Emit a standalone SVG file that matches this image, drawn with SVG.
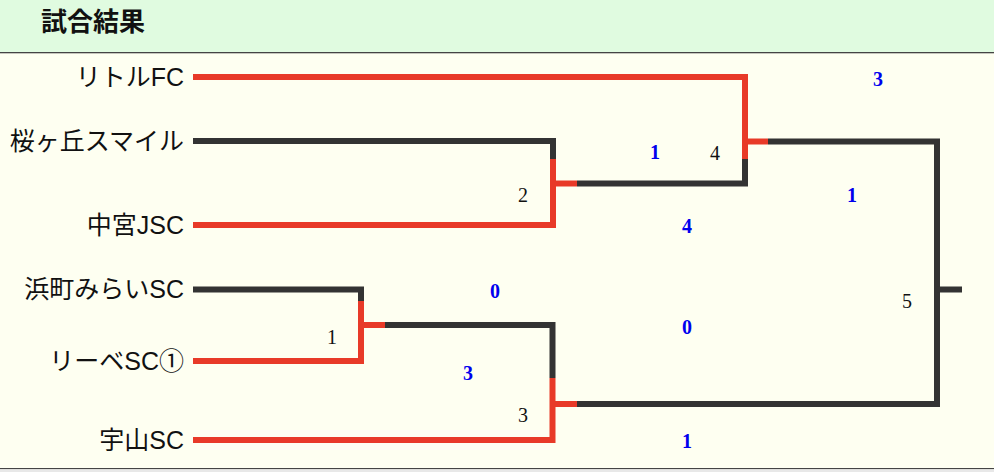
<svg xmlns="http://www.w3.org/2000/svg" width="994" height="472" viewBox="0 0 994 472">
<style>
.team{font-family:"Liberation Sans","Noto Sans CJK JP",sans-serif;font-size:25px;fill:#111;text-anchor:end}
.title{font-family:"Liberation Sans","Noto Sans CJK JP",sans-serif;font-size:26px;font-weight:bold;fill:#111}
.score{font-family:"Liberation Serif",serif;font-size:20px;font-weight:bold;fill:#0000ee;text-anchor:middle}
.num{font-family:"Liberation Serif",serif;font-size:20px;fill:#111;text-anchor:middle}
.w{fill:none;stroke:#e83a28;stroke-width:6;stroke-linejoin:miter;stroke-linecap:butt}
.l{fill:none;stroke:#333;stroke-width:6;stroke-linejoin:miter;stroke-linecap:butt}
</style>
<rect x="0" y="0" width="994" height="472" fill="#fefff1"/>
<rect x="0" y="0" width="994" height="52.5" fill="#e0fbe0"/>
<rect x="0" y="52" width="994" height="1.3" fill="#444"/>
<rect x="0" y="468" width="994" height="1.3" fill="#444"/>
<rect x="0" y="469.3" width="994" height="3" fill="#e8e8e8"/>
<text class="title" x="41" y="31">試合結果</text>
<g id="teams">
<g id="team-little"><text class="team" x="184" y="86">リトルFC</text></g>
<g id="team-sakuragaoka"><text class="team" x="184" y="150">桜ヶ丘スマイル</text></g>
<g id="team-nakamiya"><text class="team" x="184" y="234">中宮JSC</text></g>
<g id="team-hamamachi"><text class="team" x="184" y="298">浜町みらいSC</text></g>
<g id="team-liebe"><text class="team" x="184" y="370">リーベSC①</text></g>
<g id="team-uyama"><text class="team" x="184" y="449">宇山SC</text></g>
</g>
<g id="connectors">
<path class="l" d="M193 289.5 H361 V301"/>
<path class="w" d="M361 301 V361 H193"/>
<path class="w" d="M361 325 H385"/>
<path class="l" d="M385 325 H552.5 V378"/>
<path class="w" d="M552.5 378 V440 H193"/>
<path class="w" d="M552.5 404 H577"/>
<path class="l" d="M193 141 H553 V159"/>
<path class="w" d="M553 159 V225 H193"/>
<path class="w" d="M553 183.5 H577"/>
<path class="l" d="M577 183.5 H745 V159"/>
<path class="w" d="M745 159 V77 H193"/>
<path class="w" d="M745 141.5 H768"/>
<path class="l" d="M768 141.5 H937 V404 H577"/>
<path class="l" d="M937 289.5 H962"/>
</g>
<g id="match-numbers">
<g id="match-1"><text class="num" x="332" y="344">1</text></g>
<g id="match-2"><text class="num" x="523" y="202">2</text></g>
<g id="match-3"><text class="num" x="523" y="422">3</text></g>
<g id="match-4"><text class="num" x="715" y="160">4</text></g>
<g id="match-5"><text class="num" x="907" y="308">5</text></g>
</g>
<g id="scores">
<text class="score" x="878" y="86">3</text>
<text class="score" x="655" y="159">1</text>
<text class="score" x="852" y="202">1</text>
<text class="score" x="687" y="233">4</text>
<text class="score" x="495" y="298">0</text>
<text class="score" x="687" y="334">0</text>
<text class="score" x="468" y="380">3</text>
<text class="score" x="687" y="448">1</text>
</g>
</svg>
